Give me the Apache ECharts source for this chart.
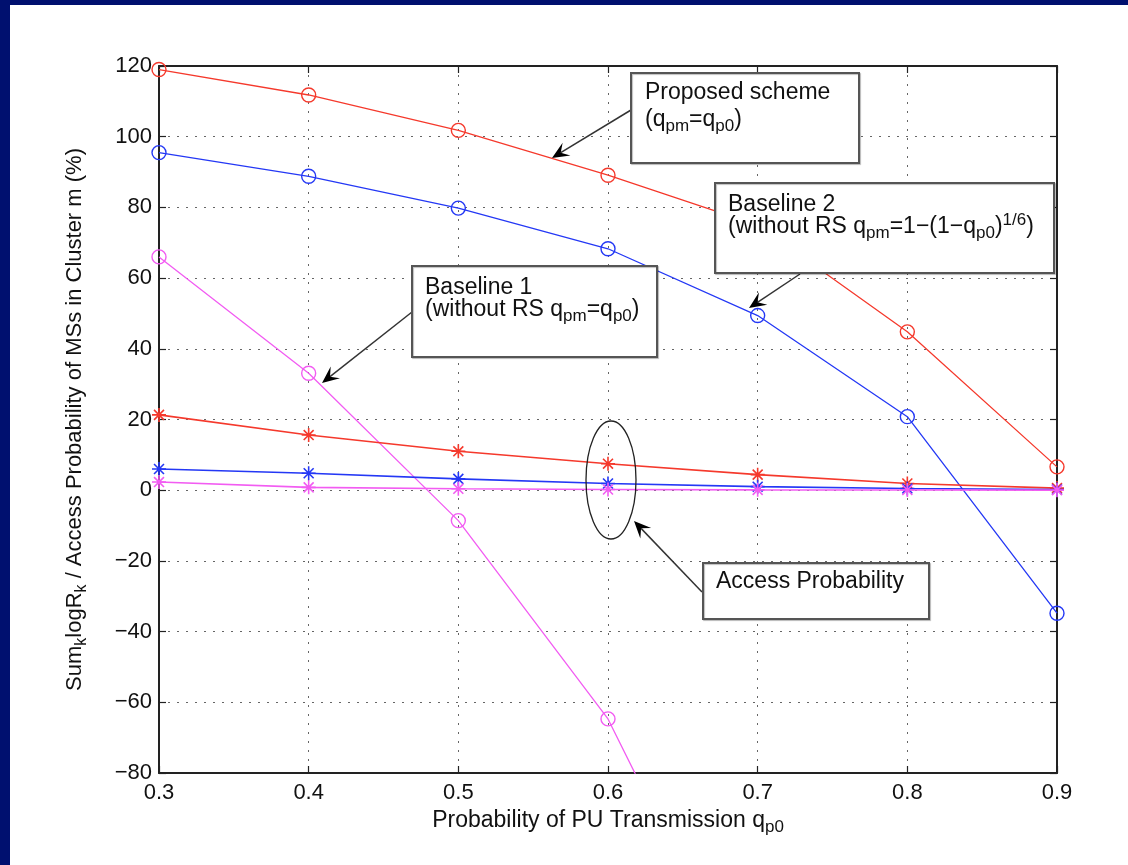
<!DOCTYPE html>
<html>
<head>
<meta charset="utf-8">
<script src="https://cdn.jsdelivr.net/npm/echarts@6/dist/echarts.min.js"></script>
<style>
  html, body { margin: 0; padding: 0; width: 1128px; height: 865px; background: #00106f; overflow: hidden; }
  #chart { position: absolute; left: 10px; top: 5px; width: 1118px; height: 860px; background: #ffffff; }
</style>
</head>
<body>
<div id="chart"></div>
<script>
// Probability of PU transmission (x axis)
const qp0 = [0.3, 0.4, 0.5, 0.6, 0.7, 0.8, 0.9];

// Sum_k log R_k, one array per scheme
const proposedRate  = [119, 111.8, 101.8, 89.1, 75, 44.8, 6.6];
const baseline2Rate = [95.5, 88.8, 79.8, 68.3, 49.4, 20.8, -34.8];
const baseline1Rate = [66, 33.1, -8.6, -64.7, -150];

// Access probability of MSs in cluster m (%)
const proposedAccess  = [21.3, 15.6, 11, 7.5, 4.4, 1.9, 0.6];
const baseline2Access = [6, 4.8, 3.2, 1.9, 1.0, 0.5, 0.2];
const baseline1Access = [2.3, 0.8, 0.4, 0.2, 0.1, 0.05, 0.02];

const yTicks = [-80, -60, -40, -20, 0, 20, 40, 60, 80, 100, 120];

const RED = '#f5392c', BLUE = '#2438f5', MAGENTA = '#f25cf2';
const FONT = 'Liberation Sans, Arial, Helvetica, sans-serif';
const OX = 10, OY = 5; // offset of the white panel inside the page

const pairs = (ys) => ys.map((y, i) => [qp0[i], y]);
const STAR = 'path://M0,-10L0,10M-10,0L10,0M-7.1,-7.1L7.1,7.1M-7.1,7.1L7.1,-7.1';

function circleSeries(name, ys, color) {
  return {
    name, type: 'line', data: pairs(ys), clip: true,
    symbol: 'circle', symbolSize: 14,
    lineStyle: { color, width: 1.3 },
    itemStyle: { color: 'rgba(0,0,0,0)', borderColor: color, borderWidth: 1.4 },
    emphasis: { disabled: true }, animation: false, z: 3
  };
}
function starSeries(name, ys, color) {
  return {
    name, type: 'line', data: pairs(ys), clip: true,
    symbol: STAR, symbolSize: 14,
    lineStyle: { color, width: 1.6 },
    itemStyle: { color: color, borderColor: color, borderWidth: 1.6 },
    emphasis: { disabled: true }, animation: false, z: 3
  };
}

// rich-text styles for sub/superscripts
const richStyle = (size) => ({
  a: { fontSize: size, fontFamily: FONT, color: '#111', lineHeight: 30 },
  s: { fontSize: Math.round(size * 0.72), fontFamily: FONT, color: '#111', lineHeight: 14, verticalAlign: 'bottom' },
  u: { fontSize: Math.round(size * 0.72), fontFamily: FONT, color: '#111', lineHeight: 12, verticalAlign: 'top' }
});

const ANN = 23; // annotation font size

function box(x1, y1, x2, y2) {
  return {
    type: 'rect', z: 100,
    shape: { x: x1 - OX, y: y1 - OY, width: x2 - x1, height: y2 - y1 },
    style: { fill: '#fff', stroke: '#555', lineWidth: 2,
             shadowColor: 'rgba(0,0,0,0.25)', shadowOffsetX: 1, shadowOffsetY: 1, shadowBlur: 1 }
  };
}
function plainText(x, cy, text) {
  return {
    type: 'text', z: 101, x: x - OX, y: cy - OY,
    style: { text, font: ANN + 'px ' + FONT, fill: '#111', verticalAlign: 'middle', align: 'left' }
  };
}
function richText(x, cy, text) {
  return {
    type: 'text', z: 101, x: x - OX, y: cy - OY - 15,
    style: { text, rich: richStyle(ANN), fill: '#111', verticalAlign: 'top', align: 'left' }
  };
}
function arrow(x1, y1, x2, y2) {
  const dx = x2 - x1, dy = y2 - y1, len = Math.hypot(dx, dy);
  const ux = dx / len, uy = dy / len, nx = -uy, ny = ux;
  const L = 17, W = 7.5;
  const bx = x2 - ux * L, by = y2 - uy * L;
  const pts = [
    [x2, y2],
    [bx + nx * W, by + ny * W],
    [x2 - ux * L * 0.6, y2 - uy * L * 0.6],
    [bx - nx * W, by - ny * W]
  ].map(p => [p[0] - OX, p[1] - OY]);
  return [
    { type: 'line', z: 100, shape: { x1: x1 - OX, y1: y1 - OY, x2: x2 - ux * L * 0.6 - OX, y2: y2 - uy * L * 0.6 - OY },
      style: { stroke: '#333', lineWidth: 1.5 } },
    { type: 'polygon', z: 100, shape: { points: pts }, style: { fill: '#000' } }
  ];
}

const chart = echarts.init(document.getElementById('chart'), null, { renderer: 'canvas' });

const axisLineStyle = { show: true, onZero: false, lineStyle: { color: '#222', width: 2 } };
const tickStyle = { show: true, inside: true, length: 7, lineStyle: { color: '#222', width: 1.2 } };
const gridLine = { show: true, lineStyle: { color: '#666', width: 1, type: [2, 7] } };
const minusFmt = (v) => String(v).replace('-', '\u2212');

chart.setOption({
  animation: false,
  grid: { left: 159 - OX, right: 71, top: 66 - OY, bottom: 92 },
  xAxis: [
    {
      type: 'value', min: 0.3, max: 0.9, interval: 0.1, position: 'bottom',
      axisLine: axisLineStyle, axisTick: tickStyle, splitLine: gridLine,
      axisLabel: { color: '#111', fontSize: 22, fontFamily: FONT, margin: 9,
                   formatter: (v) => v.toFixed(1) },
      name: '{a|Probability of PU Transmission q}{s|p0}',
      nameLocation: 'middle', nameGap: 29,
      nameTextStyle: { rich: richStyle(23) }
    },
    {
      type: 'value', min: 0.3, max: 0.9, interval: 0.1, position: 'top',
      axisLine: axisLineStyle, axisTick: tickStyle, splitLine: { show: false },
      axisLabel: { show: false }
    }
  ],
  yAxis: [
    {
      type: 'value', min: yTicks[0], max: yTicks[yTicks.length - 1], interval: 20, position: 'left',
      axisLine: axisLineStyle, axisTick: tickStyle, splitLine: gridLine,
      axisLabel: { color: '#111', fontSize: 22, fontFamily: FONT, margin: 7, formatter: minusFmt },
      name: '{a|Sum}{s|k}{a|logR}{s|k}{a| / Access Probability of MSs in Cluster m (%)}',
      nameLocation: 'middle', nameRotate: 90, nameGap: 69,
      nameTextStyle: { rich: richStyle(22) }
    },
    {
      type: 'value', min: yTicks[0], max: yTicks[yTicks.length - 1], interval: 20, position: 'right',
      axisLine: axisLineStyle, axisTick: tickStyle, splitLine: { show: false },
      axisLabel: { show: false }
    }
  ],
  series: [
    circleSeries('Proposed scheme', proposedRate, RED),
    circleSeries('Baseline 2', baseline2Rate, BLUE),
    circleSeries('Baseline 1', baseline1Rate, MAGENTA),
    starSeries('Proposed access', proposedAccess, RED),
    starSeries('Baseline 2 access', baseline2Access, BLUE),
    starSeries('Baseline 1 access', baseline1Access, MAGENTA)
  ],
  graphic: [
    // Proposed scheme
    ...arrow(631, 110, 552, 158),
    box(631, 73, 859, 163),
    plainText(645, 93, 'Proposed scheme'),
    richText(645, 120, '{a|(q}{s|pm}{a|=q}{s|p0}{a|)}'),
    // Baseline 2
    ...arrow(800, 274, 749, 308),
    box(715, 183, 1054, 273),
    plainText(728, 205, 'Baseline 2'),
    richText(728, 227, '{a|(without RS q}{s|pm}{a|=1\u2212(1\u2212q}{s|p0}{a|)}{u|1/6}{a|)}'),
    // Baseline 1
    ...arrow(412, 312, 322, 383),
    box(412, 266, 657, 357),
    plainText(425, 288, 'Baseline 1'),
    richText(425, 310, '{a|(without RS q}{s|pm}{a|=q}{s|p0}{a|)}'),
    // Access probability group
    { type: 'ellipse', z: 100, shape: { cx: 611 - OX, cy: 480 - OY, rx: 25, ry: 59 },
      style: { fill: 'none', stroke: '#222', lineWidth: 1.3 } },
    ...arrow(702, 592, 634, 521),
    box(703, 563, 929, 619),
    plainText(716, 582, 'Access Probability')
  ]
});
</script>
</body>
</html>
